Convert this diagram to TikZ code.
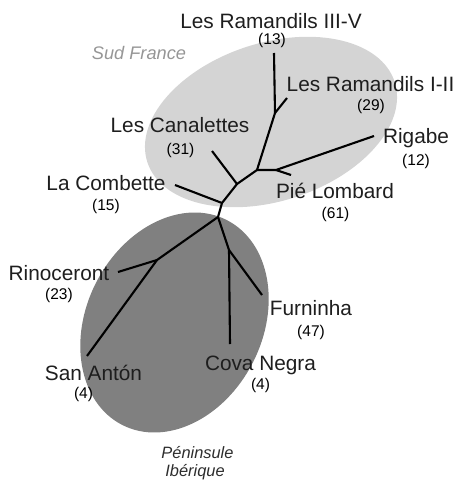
\documentclass[tikz,border=0pt]{standalone}
\usepackage{fontspec}
\setmainfont{Liberation Sans}
\usepackage{tikz}
\definecolor{sudgray}{RGB}{212,212,212}
\definecolor{iberiagray}{RGB}{128,128,128}
\definecolor{sitetext}{RGB}{30,30,30}
\definecolor{regiontext}{RGB}{150,150,150}
\definecolor{iberiatext}{RGB}{45,45,45}
\tikzset{
  sitename/.style={font=\fontsize{20.8}{24}\selectfont, text=sitetext, anchor=base, inner sep=0pt},
  sitecount/.style={font=\fontsize{15.5}{18}\selectfont, text=black, anchor=base, inner sep=0pt},
  branch/.style={line width=2.1pt, line join=round}
}
\begin{document}
\begin{tikzpicture}[x=1pt, y=1pt]
\useasboundingbox (0,0) rectangle (459,-481);

% === regions ===
\fill[sudgray, rotate around={18:(271,-122)}] (271,-122) ellipse [x radius=130, y radius=79];
\fill[iberiagray, rotate around={63:(174.5,-322.5)}] (174.5,-322.5) ellipse [x radius=115, y radius=88];

% === tree ===
\coordinate (jIIIV) at (275,-113);
\coordinate (jRig) at (257,-170);
\coordinate (jPie) at (276,-170);
\coordinate (jCan) at (237,-184);
\coordinate (jCom) at (222,-203);
\coordinate (root) at (218,-217);
\coordinate (jRin) at (157,-260);
\coordinate (jFur) at (229,-250);

\coordinate (lIIIV) at (274,-53);
\coordinate (lIII) at (287,-98);
\coordinate (lRig) at (374,-136);
\coordinate (lPie) at (291,-175);
\coordinate (lCan) at (212,-151);
\coordinate (lCom) at (175,-185);
\coordinate (lRin) at (118,-272);
\coordinate (lSan) at (87,-356);
\coordinate (lCov) at (230,-344);
\coordinate (lFur) at (262,-295);

\draw[branch] (lIIIV) -- (jIIIV) -- (jRig) -- (jCan) -- (jCom) -- (root);
\draw[branch] (jIIIV) -- (lIII);
\draw[branch] (jRig) -- (jPie) -- (lRig);
\draw[branch] (jPie) -- (lPie);
\draw[branch] (jCan) -- (lCan);
\draw[branch] (jCom) -- (lCom);
\draw[branch] (root) -- (jRin) -- (lSan);
\draw[branch] (jRin) -- (lRin);
\draw[branch] (root) -- (jFur) -- (lCov);
\draw[branch] (jFur) -- (lFur);

% === site labels ===
\node[sitename] (nIIIV) at (271,-28.3) {Les Ramandils III-V};
\node[sitecount] (cIIIV) at (272,-45) {(13)};
\node[sitename] (nIII) at (370.5,-92) {Les Ramandils I-II};
\node[sitecount] (cIII) at (371,-111) {(29)};
\node[sitename] (nRig) at (416,-144) {Rigabe};
\node[sitecount] (cRig) at (416,-165.7) {(12)};
\node[sitename] (nPie) at (335,-198) {Pié Lombard};
\node[sitecount] (cPie) at (335.5,-218.5) {(61)};
\node[sitename] (nCan) at (180,-133) {Les Canalettes};
\node[sitecount] (cCan) at (180.5,-154) {(31)};
\node[sitename] (nCom) at (106,-190) {La Combette};
\node[sitecount] (cCom) at (106,-210.7) {(15)};
\node[sitename] (nRin) at (59,-280) {Rinoceront};
\node[sitecount] (cRin) at (59,-299) {(23)};
\node[sitename] (nSan) at (93.5,-380) {San Antón};
\node[sitecount] (cSan) at (83.5,-398.5) {(4)};
\node[sitename] (nCov) at (260.5,-370) {Cova Negra};
\node[sitecount] (cCov) at (260.5,-389.5) {(4)};
\node[sitename] (nFur) at (311,-315) {Furninha};
\node[sitecount] (cFur) at (311,-336.5) {(47)};

% === region labels ===
\node[font=\fontsize{18.2}{21}\selectfont\itshape, text=regiontext, anchor=base, inner sep=0pt] (sud) at (139,-60) {Sud France};
\node[font=\fontsize{16.4}{18}\selectfont\itshape, text=iberiatext, anchor=base, inner sep=0pt] (pen) at (197.5,-458) {Péninsule};
\node[font=\fontsize{16.4}{18}\selectfont\itshape, text=iberiatext, anchor=base, inner sep=0pt] (ibe) at (195,-476) {Ibérique};

\end{tikzpicture}
\end{document}
